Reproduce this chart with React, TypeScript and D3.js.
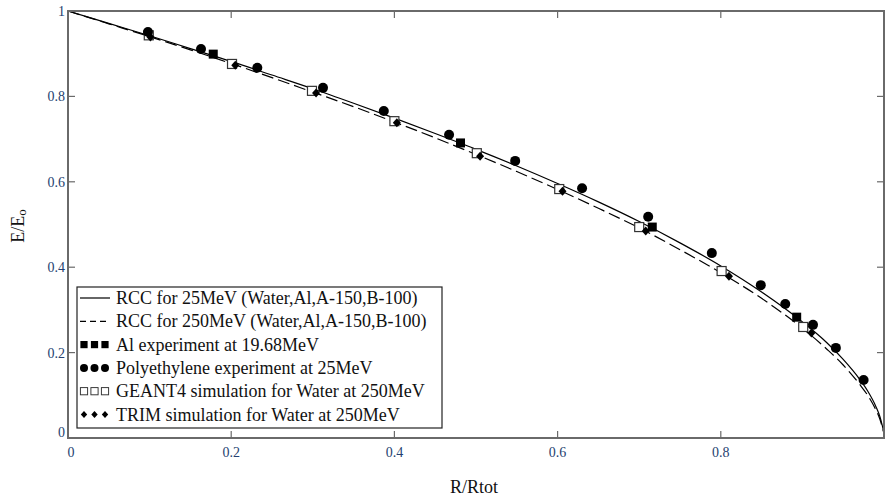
import React from "react";
import * as d3 from "d3";

// Curves
const curveX = [0, 0.05, 0.1, 0.15, 0.2, 0.25, 0.3, 0.35, 0.4, 0.45, 0.5, 0.55, 0.6, 0.65, 0.7, 0.75, 0.8, 0.85, 0.9, 0.93, 0.95, 0.97, 0.98, 0.99, 0.995, 1];
const rcc25 = [1, 0.971, 0.942, 0.912, 0.882, 0.85, 0.818, 0.784, 0.749, 0.713, 0.676, 0.637, 0.596, 0.553, 0.507, 0.457, 0.403, 0.342, 0.272, 0.223, 0.184, 0.138, 0.11, 0.074, 0.05, 0.012];
const rcc250 = [1, 0.97, 0.94, 0.909, 0.877, 0.844, 0.81, 0.776, 0.74, 0.703, 0.664, 0.624, 0.582, 0.538, 0.492, 0.441, 0.387, 0.327, 0.257, 0.208, 0.171, 0.126, 0.1, 0.066, 0.044, 0.01];

// Al experiment at 19.68 MeV
const alX = [0.178, 0.481, 0.716, 0.893];
const alY = [0.899, 0.691, 0.494, 0.283];
// Polyethylene experiment at 25 MeV
const peX = [0.098, 0.163, 0.232, 0.3125, 0.387, 0.467, 0.548, 0.63, 0.711, 0.789, 0.849, 0.879, 0.913, 0.941, 0.975];
const peY = [0.951, 0.911, 0.867, 0.82, 0.766, 0.71, 0.649, 0.585, 0.518, 0.433, 0.358, 0.314, 0.265, 0.211, 0.136];
// GEANT4 simulation for water at 250 MeV
const g4X = [0.099, 0.201, 0.299, 0.4, 0.501, 0.602, 0.7, 0.801, 0.901];
const g4Y = [0.943, 0.876, 0.813, 0.742, 0.667, 0.583, 0.494, 0.391, 0.26];
// TRIM simulation for water at 250 MeV
const trX = [0.101, 0.205, 0.304, 0.403, 0.505, 0.606, 0.708, 0.81, 0.911];
const trY = [0.939, 0.873, 0.808, 0.738, 0.66, 0.578, 0.485, 0.379, 0.246];

const xTicks = [0, 0.2, 0.4, 0.6, 0.8];
const yTicks = [0, 0.2, 0.4, 0.6, 0.8, 1];
const legendLabels = [
  "RCC for 25MeV (Water,Al,A-150,B-100)",
  "RCC for 250MeV (Water,Al,A-150,B-100)",
  "Al experiment at 19.68MeV",
  "Polyethylene experiment at 25MeV",
  "GEANT4 simulation for Water at 250MeV",
  "TRIM simulation for Water at 250MeV",
];

const W = 887, H = 498;
const L = 68, R = 884, T = 11, B = 438;
const FONT = "'Liberation Serif', 'Times New Roman', serif";
const AXC = "#6a6a6a";
const TICKC = "#253f70";

function Marker({ kind, x, y }: { kind: string; x: number; y: number }) {
  if (kind === "sq") return <rect x={x - 4.5} y={y - 4.5} width={9} height={9} fill="#000" />;
  if (kind === "circ") return <circle cx={x} cy={y} r={5} fill="#000" />;
  if (kind === "osq") return <rect x={x - 4.5} y={y - 4.5} width={9} height={9} fill="#fff" stroke="#333" strokeWidth={1.2} />;
  return <path d={`M${x},${y - 4.5}L${x + 4},${y}L${x},${y + 4.5}L${x - 4},${y}Z`} fill="#000" />;
}

export default function App() {
  const xs = d3.scaleLinear().domain([0, 1]).range([L, R]);
  const ys = d3.scaleLinear().domain([0, 1]).range([B, T]);
  const line = d3
    .line<[number, number]>()
    .x((d) => xs(d[0]))
    .y((d) => ys(d[1]))
    .curve(d3.curveMonotoneX);
  const p25 = line(curveX.map((x, i) => [x, rcc25[i]]) as [number, number][]) || "";
  const p250 = line(curveX.map((x, i) => [x, rcc250[i]]) as [number, number][]) || "";

  const series: { kind: string; xv: number[]; yv: number[] }[] = [
    { kind: "osq", xv: g4X, yv: g4Y },
    { kind: "dia", xv: trX, yv: trY },
    { kind: "sq", xv: alX, yv: alY },
    { kind: "circ", xv: peX, yv: peY },
  ];

  const legX = 77, legY = 287, legW = 365, legH = 141;
  const rowH = 23.3;
  const legKinds = ["solid", "dash", "sq", "circ", "osq", "dia"];

  return (
    <svg width={W} height={H} style={{ position: "absolute", left: 0, top: 0, background: "#fff" }}>
      {/* curves */}
      <path d={p25} fill="none" stroke="#000" strokeWidth={1.2} />
      <path d={p250} fill="none" stroke="#000" strokeWidth={1.2} strokeDasharray="12,5" />
      {/* markers */}
      {series.map((s) =>
        s.xv.map((xv, i) => <Marker key={s.kind + i} kind={s.kind} x={xs(xv)} y={ys(s.yv[i])} />)
      )}
      {/* frame */}
      <rect x={L} y={T} width={R - L} height={B - T} fill="none" stroke={AXC} strokeWidth={2} />
      {xTicks.filter((t) => t > 0).map((t) => (
        <g key={"xt" + t}>
          <line x1={xs(t)} x2={xs(t)} y1={B} y2={B - 7} stroke={AXC} strokeWidth={1.2} />
          <line x1={xs(t)} x2={xs(t)} y1={T} y2={T + 7} stroke={AXC} strokeWidth={1.2} />
        </g>
      ))}
      {yTicks.filter((t) => t > 0 && t < 1).map((t) => (
        <g key={"yt" + t}>
          <line x1={L} x2={L + 7} y1={ys(t)} y2={ys(t)} stroke={AXC} strokeWidth={1.2} />
          <line x1={R} x2={R - 7} y1={ys(t)} y2={ys(t)} stroke={AXC} strokeWidth={1.2} />
        </g>
      ))}
      {/* tick labels */}
      {xTicks.map((t) => (
        <text key={"xl" + t} x={xs(t) + (t === 0 ? 3 : 0)} y={B + 19} textAnchor="middle" fontFamily={FONT} fontSize={14} fill={TICKC}>
          {String(t)}
        </text>
      ))}
      {yTicks.map((t) => (
        <text key={"yl" + t} x={L - 3} y={ys(t) + (t === 0 ? -1 : 5)} textAnchor="end" fontFamily={FONT} fontSize={14} fill={TICKC}>
          {String(t)}
        </text>
      ))}
      {/* axis titles */}
      <text x={474} y={493} textAnchor="middle" fontFamily={FONT} fontSize={18} fill="#111">R/Rtot</text>
      <text transform={`translate(24,226) rotate(-90)`} textAnchor="middle" fontFamily={FONT} fontSize={18} fill="#111">
        E/E<tspan fontSize={13} dy={2}>o</tspan>
      </text>
      {/* legend */}
      <rect x={legX} y={legY} width={legW} height={legH} fill="#fff" stroke="#222" strokeWidth={1.2} />
      {legendLabels.map((lab, i) => {
        const cy = legY + 11 + i * rowH;
        const k = legKinds[i];
        let sym: React.ReactNode;
        if (k === "solid") sym = <line x1={80} x2={110} y1={cy} y2={cy} stroke="#000" strokeWidth={1.2} />;
        else if (k === "dash") sym = <line x1={80} x2={110} y1={cy} y2={cy} stroke="#000" strokeWidth={1.2} strokeDasharray="6,4" />;
        else {
          const s = 0.8;
          sym = (
            <g>
              {[0, 1, 2].map((j) => (
                <g key={j} transform={`translate(${84 + j * 10.5},${cy}) scale(${s})`}>
                  <Marker kind={k} x={0} y={0} />
                </g>
              ))}
            </g>
          );
        }
        return (
          <g key={"lg" + i}>
            {sym}
            <text x={116} y={cy + 6} fontFamily={FONT} fontSize={18} fill="#111">{lab}</text>
          </g>
        );
      })}
    </svg>
  );
}
